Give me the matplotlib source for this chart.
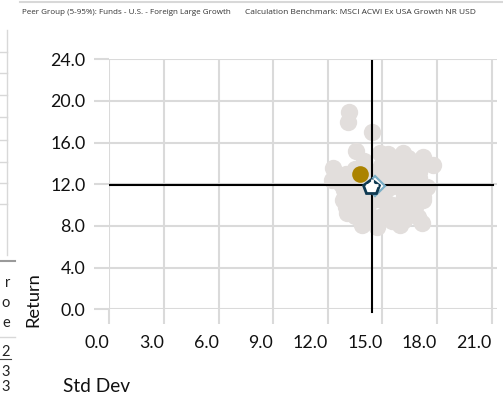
import matplotlib
matplotlib.use("Agg")
import matplotlib.pyplot as plt
from matplotlib.lines import Line2D

# ---------------- data ----------------
x_ticks = [0.0, 3.0, 6.0, 9.0, 12.0, 15.0, 18.0, 21.0]
y_ticks = [0.0, 4.0, 8.0, 12.0, 16.0, 20.0, 24.0]
x_tick_labels = ["0.0", "3.0", "6.0", "9.0", "12.0", "15.0", "18.0", "21.0"]
y_tick_labels = ["0.0", "4.0", "8.0", "12.0", "16.0", "20.0", "24.0"]

peer_std = [13.18, 13.12, 14.41, 13.55, 14.87, 16.14, 17.24, 17.79, 12.30, 12.21,
            12.85, 13.04, 13.86, 14.68, 15.96, 16.97, 17.16, 17.24, 17.43,
            13.5, 14.0, 15.2, 15.8, 16.5, 17.0, 13.3, 14.0, 13.5, 14.5, 15.2,
            15.8, 16.2, 16.8, 16.5, 15.5, 14.2, 15.0, 16.0, 13.4, 14.8, 13.8,
            15.5, 16.6, 17.2, 12.9, 14.3, 15.9,
            14.2, 15.0, 15.4, 16.0, 16.6, 17.0, 13.0, 13.5, 14.6, 15.4, 16.2,
            16.8, 16.1, 15.0, 14.0, 14.6, 15.6, 16.9, 14.9, 16.4, 15.3, 13.9,
            13.0, 13.8, 17.0, 12.7]
peer_ret = [18.97, 18.01, 17.05, 15.20, 14.98, 14.98, 14.65, 13.85, 13.54, 12.41,
            10.49, 9.22, 8.09, 7.93, 8.09, 8.89, 8.26, 10.49, 11.77,
            13.5, 14.2, 14.2, 13.5, 13.8, 13.2, 12.2, 11.0, 10.2, 10.5, 11.5,
            12.5, 11.2, 12.0, 10.2, 10.0, 9.3, 9.0, 9.2, 11.0, 12.8, 9.5,
            8.5, 9.3, 10.8, 11.5, 13.2, 14.6,
            12.3, 12.3, 13.0, 13.0, 12.6, 12.6, 9.8, 9.0, 8.3, 9.5, 8.6,
            9.8, 10.5, 10.5, 10.2, 11.2, 11.8, 11.4, 13.8, 14.5, 14.9, 13.0,
            13.0, 12.0, 14.2, 12.0]

fund_std, fund_ret = 13.77, 12.96
bench_std, bench_ret = 14.37, 11.75
index_std, index_ret = 14.59, 11.87
cross_std, cross_ret = 14.41, 11.93

header_peer = "Peer Group (5-95%): Funds - U.S. - Foreign Large Growth"
header_bench = "Calculation Benchmark: MSCI ACWI Ex USA Growth NR USD"

# ---------------- figure ----------------
W, H = 503, 396
fig = plt.figure(figsize=(W / 100, H / 100), dpi=100)
plt.rcParams['font.family'] = ['Lato', 'DejaVu Sans']

def fx(x):
    return x / W

def fy(y):
    return 1 - y / H

left_px, right_px, top_px, bot_px = 109.3, 497.2, 59.3, 309.3
ax = fig.add_axes([fx(left_px), fy(bot_px), (right_px - left_px) / W, (bot_px - top_px) / H])
ax.set_xlim(0, 21.3)
ax.set_ylim(0, 24)
for s in ax.spines.values():
    s.set_visible(False)

grid_c = '#dadada'
ax.set_xticks(x_ticks)
ax.set_yticks(y_ticks)
ax.set_xticklabels(x_tick_labels)
ax.set_yticklabels(y_tick_labels)
ax.grid(True, color=grid_c, lw=1.5, zorder=0)
ax.set_axisbelow(True)
ax.tick_params(axis='both', length=10.8, width=1.5, color=grid_c, direction='out',
               labelsize=12.8, labelcolor='#111111')
ax.tick_params(axis='x', pad=8)
ax.tick_params(axis='y', pad=6.5)
for lbl in ax.get_xticklabels():
    lbl.set_ha('right')

# peer group cloud
ax.plot(peer_std, peer_ret, 'o', ms=12.5, color='#e2dedc', mec='none', zorder=2)

# crosshair
ax.axvline(cross_std, ymin=-0.01, ymax=0.993, color='black', lw=1.5, zorder=3, clip_on=False)
ax.axhline(cross_ret, xmin=0.0, xmax=0.99, color='black', lw=1.5, zorder=3)

# index diamond, benchmark pentagon, plus, fund
ax.plot([index_std], [index_ret], 'D', ms=10, mfc='white', mec='#7aaec6', mew=1.6, zorder=4)
ax.plot([bench_std], [bench_ret], 'p', ms=11.5, mfc='white', mec='#0f3a52', mew=2.0, zorder=5)
ax.plot([cross_std], [cross_ret], '+', ms=9, color='white', mew=2.0, zorder=6)
ax.plot([fund_std], [fund_ret], 'o', ms=12, color='#ab8300', mec='none', zorder=7)

# axis titles
fig.text(fx(33), fy(300), "Return", rotation=90, ha='center', va='center',
         fontsize=13.2, color='#111111')
fig.text(fx(63), fy(386), "Std Dev", ha='left', va='center', fontsize=13.8, color='#111111')

# header
fig.add_artist(Line2D([fx(20), fx(503)], [fy(2), fy(2)], color='#d8d8d8', lw=1.5))
fig.text(fx(22), fy(12.5), header_peer, ha='left', va='center', fontsize=5.8,
         color='#333333', family=['Open Sans', 'DejaVu Sans'])
fig.text(fx(245), fy(12.5), header_bench, ha='left', va='center', fontsize=6.0,
         color='#333333', family=['Open Sans', 'DejaVu Sans'])

# cut-off neighbouring table at left edge
fig.add_artist(Line2D([fx(7), fx(7)], [fy(30), fy(255)], color='#d8d8d8', lw=1.0))
for yy in [51.7, 73.3, 95.3, 117.3, 139.5, 161.7, 183.3, 204]:
    fig.add_artist(Line2D([fx(0), fx(7)], [fy(yy), fy(yy)], color='#d8d8d8', lw=1.0))
fig.add_artist(Line2D([fx(0), fx(15)], [fy(260.5), fy(260.5)], color='#9a9a9a', lw=1.5))
for txt, yy in [("r", 283), ("o", 303), ("e", 323), ("2", 352), ("3", 372), ("3", 387)]:
    fig.text(fx(10), fy(yy), txt, ha='right', va='center', fontsize=10.5, color='#222222')
fig.add_artist(Line2D([fx(0), fx(15)], [fy(337), fy(337)], color='#d8d8d8', lw=1.0))
fig.add_artist(Line2D([fx(0), fx(11)], [fy(359), fy(359)], color='#444444', lw=0.8))

fig.savefig("out.png", dpi=100)
